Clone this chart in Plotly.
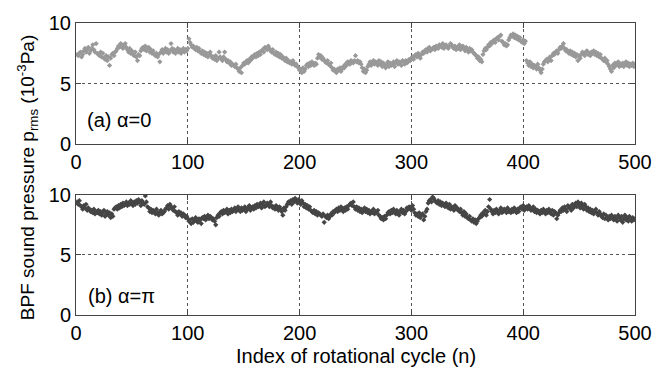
import plotly.graph_objects as go

# Index of rotational cycle
n = list(range(1, 501))

# (a) alpha = 0
p_a = [
    7.4,7.3,7.5,7.6,7.2,7.4,7.7,7.9,7.6,7.8,8.0,7.5,7.7,7.9,8.2,7.8,7.6,8.3,7.5,7.4,
    7.3,7.6,7.2,7.5,7.1,7.0,7.3,6.9,7.2,6.5,7.1,7.4,7.5,7.3,7.6,7.7,7.9,8.1,8.0,8.3,
    8.2,7.9,8.1,8.3,8.0,7.8,7.6,7.9,7.5,7.7,7.4,7.3,7.6,7.2,6.9,7.4,7.3,7.7,7.9,8.0,
    7.8,8.1,7.7,7.9,8.0,7.6,7.8,7.5,7.7,7.4,7.3,7.5,7.2,7.4,6.8,7.6,7.8,7.5,7.7,7.9,
    7.6,7.8,7.5,7.7,8.3,7.9,7.6,7.8,7.5,7.7,7.9,7.6,7.8,7.5,7.7,7.9,7.6,7.8,7.7,7.9,
    8.7,8.4,8.2,8.0,8.1,7.9,7.8,8.0,7.7,7.9,7.6,7.5,7.7,7.4,7.6,7.3,7.5,7.2,7.4,7.6,
    7.3,7.1,7.2,7.0,7.3,6.9,7.1,7.6,7.2,7.0,6.9,7.2,7.6,7.0,6.8,6.9,6.7,6.8,6.5,6.6,
    6.5,6.4,6.6,6.3,6.2,6.0,6.3,5.9,6.5,6.7,6.6,6.8,6.9,6.7,7.0,6.9,7.2,7.1,7.3,7.4,
    7.2,7.5,7.3,7.6,7.4,7.7,7.8,7.6,8.0,7.9,7.8,8.1,7.9,7.7,7.6,7.8,7.5,7.4,7.6,7.3,
    7.5,7.2,7.4,7.1,7.2,7.0,6.9,7.1,6.8,6.9,6.7,6.8,6.6,6.9,6.7,6.5,6.6,6.4,6.3,6.1,
    6.2,5.9,6.3,6.0,6.2,6.5,6.6,6.4,6.7,6.5,6.8,6.6,6.5,6.7,6.6,7.1,7.4,7.2,7.3,7.0,
    7.1,6.9,6.8,6.7,6.9,6.6,6.5,6.7,6.3,6.1,6.2,6.0,5.9,6.2,6.1,6.3,6.0,6.2,6.4,6.3,
    6.6,6.5,6.8,6.7,6.6,6.9,6.8,6.7,6.9,7.3,6.8,6.9,6.7,6.8,6.6,6.3,6.0,6.2,5.9,6.1,
    6.4,6.6,6.8,6.5,6.7,6.9,6.6,6.8,6.7,6.5,6.9,6.6,6.8,6.4,6.7,6.5,6.3,6.6,6.8,6.4,
    6.7,6.5,6.6,6.8,6.4,6.7,6.9,6.6,6.8,6.7,6.5,6.9,6.8,6.6,6.9,6.7,6.8,7.0,6.9,7.1,
    7.2,7.0,7.3,7.4,7.2,7.5,7.3,7.1,7.4,7.6,7.5,7.7,7.8,7.6,7.9,8.0,7.7,7.8,7.9,8.0,
    7.8,8.1,8.0,7.9,8.2,8.1,8.0,8.3,7.9,8.1,8.2,8.0,7.9,8.1,8.3,8.2,8.0,7.9,8.1,7.8,
    8.0,7.9,8.2,7.8,8.0,8.1,7.9,7.7,8.0,7.8,7.6,7.9,7.7,7.8,7.6,7.5,7.4,7.3,7.1,7.2,
    6.9,7.0,6.8,7.4,7.7,7.9,7.8,8.0,8.2,8.1,8.4,8.3,8.5,8.6,8.4,8.7,8.8,8.6,8.9,9.0,
    8.5,8.4,8.2,8.3,8.1,8.2,8.6,8.8,9.0,8.9,9.1,8.8,9.0,8.7,8.9,8.6,8.8,8.5,8.4,8.6,
    8.3,8.5,6.9,6.7,6.5,6.8,6.4,6.6,6.3,6.5,6.4,6.2,6.6,6.3,6.1,5.9,6.2,6.6,6.8,6.9,
    7.0,6.8,7.1,7.2,6.9,7.3,7.5,7.4,7.6,7.7,7.5,7.8,8.0,7.9,8.1,8.3,7.9,7.7,7.8,7.6,
    7.5,7.7,7.4,7.6,7.3,7.5,7.2,7.4,6.9,7.3,7.1,7.4,7.6,7.5,7.3,7.6,7.7,7.4,7.5,7.3,
    7.6,7.5,7.7,7.4,7.6,7.3,7.5,7.2,7.4,7.1,7.0,6.9,7.1,6.8,6.9,6.6,6.4,6.2,6.0,6.5,
    6.3,6.7,6.5,6.6,6.8,6.4,6.6,6.5,6.7,6.4,6.6,6.8,6.5,6.7,6.4,6.6,6.5,6.7,6.4,6.6,
]

# (b) alpha = pi
p_b = [
    9.4,9.2,9.5,9.1,9.0,8.8,9.1,8.9,9.2,8.7,8.9,8.8,8.6,8.7,8.5,8.8,8.4,8.6,8.5,8.7,
    8.4,8.6,8.3,8.5,8.7,8.2,8.4,8.6,8.3,8.5,8.1,8.4,8.2,8.8,8.9,9.0,8.8,9.1,8.9,9.2,
    9.0,9.3,9.1,9.2,9.4,9.1,9.3,9.2,9.5,9.3,9.1,9.4,9.2,9.5,9.3,9.6,9.4,9.1,9.5,9.3,
    9.2,9.9,9.4,9.0,8.9,8.6,8.8,8.5,8.7,8.6,8.4,8.8,8.5,8.3,8.6,8.7,8.4,8.5,8.6,8.8,
    8.9,9.1,8.8,9.2,9.0,8.9,8.7,9.0,8.6,8.5,8.3,8.6,8.4,8.5,8.2,8.4,8.3,8.1,8.2,8.0,
    7.8,7.9,7.6,8.0,7.7,7.9,8.1,7.8,7.7,8.0,7.9,7.6,8.1,8.0,8.2,7.9,8.1,8.3,8.0,8.2,
    8.1,7.9,8.0,7.8,7.5,8.1,8.3,8.2,8.5,8.6,8.4,8.7,8.5,8.6,8.8,8.4,8.7,8.5,8.8,8.6,
    8.7,8.9,8.6,8.8,9.0,8.7,8.6,8.9,8.7,8.8,9.0,8.6,8.8,8.9,9.1,8.7,8.9,9.0,8.8,9.1,
    8.9,9.2,9.0,9.1,9.3,8.9,9.2,9.4,9.0,9.1,9.3,9.2,9.0,9.4,9.1,8.9,9.0,8.8,9.1,8.9,
    8.7,9.0,8.8,8.6,8.3,8.9,8.7,9.0,9.2,9.4,9.3,9.5,9.2,9.6,9.4,9.7,9.5,9.3,9.6,9.4,
    9.2,9.5,9.3,9.0,9.2,8.9,9.1,8.8,9.0,8.7,8.6,8.5,8.7,8.4,8.6,8.3,8.5,8.4,8.3,8.2,
    8.4,7.7,8.2,8.1,8.3,8.0,8.2,8.4,8.3,8.6,8.5,8.7,8.8,8.6,8.9,8.7,9.0,8.8,8.6,8.9,
    8.7,9.0,8.8,9.1,9.2,9.3,9.1,9.4,9.0,8.8,9.0,8.7,8.9,8.6,8.8,8.5,8.7,8.9,8.6,8.8,
    8.5,8.7,8.4,8.6,8.5,8.8,8.4,8.6,8.5,8.7,8.3,8.2,8.0,8.1,7.9,8.2,8.0,8.3,8.5,8.6,
    8.4,8.7,8.5,8.8,8.6,8.4,8.7,8.5,8.3,8.6,8.8,8.5,8.7,8.4,8.6,8.9,8.8,9.0,8.9,8.7,
    9.1,8.8,8.5,8.3,8.4,8.2,8.5,8.1,8.3,8.4,7.9,8.2,8.6,8.8,9.3,9.5,9.6,9.4,9.8,9.7,
    9.5,9.4,9.3,9.5,9.2,9.4,9.1,9.3,9.2,9.0,9.3,9.1,8.9,9.2,8.8,9.0,8.9,8.7,9.1,8.8,
    8.9,8.7,8.6,8.8,8.5,8.3,8.6,8.2,8.4,8.1,8.0,8.2,7.9,7.8,8.0,7.7,7.9,7.6,7.8,8.0,
    8.1,8.3,8.2,8.5,8.4,8.7,8.3,8.6,9.0,9.6,8.8,8.6,8.4,8.7,8.5,8.8,8.6,8.4,8.7,8.9,
    8.5,8.6,8.8,8.7,8.5,8.9,8.6,8.7,8.5,8.8,8.6,8.9,8.7,8.5,8.8,8.6,8.9,9.0,8.8,9.1,
    8.7,8.9,9.0,8.8,9.1,8.9,8.7,8.8,9.0,8.6,8.8,8.5,8.7,8.6,8.4,8.7,8.5,8.8,8.6,8.4,
    8.7,8.5,8.8,8.6,8.4,8.7,8.3,8.6,8.5,8.0,8.3,8.5,8.7,8.6,8.9,8.7,9.0,8.8,8.6,9.1,
    8.9,9.0,8.7,9.2,8.9,9.1,9.3,9.0,9.4,9.2,8.9,9.3,9.1,8.8,9.2,9.0,8.7,8.9,8.6,8.8,
    8.5,8.7,8.4,8.6,8.8,8.5,8.3,8.6,8.4,8.2,8.1,8.4,8.0,8.3,8.1,7.9,8.2,8.0,8.3,8.1,
    7.9,8.2,8.0,7.8,8.3,8.1,7.9,8.2,7.7,8.0,8.3,7.9,8.1,7.8,8.2,8.0,7.8,8.1,7.9,8.0,
]

x_ticks = [0, 100, 200, 300, 400, 500]
y_ticks = [0, 5, 10]

FONT = "Liberation Sans, Arial, sans-serif"

fig = go.Figure()
fig.add_trace(go.Scatter(x=n, y=p_a, mode="markers", xaxis="x", yaxis="y",
                         marker=dict(symbol="diamond", size=4, color="#999999"),
                         showlegend=False))
fig.add_trace(go.Scatter(x=n, y=p_b, mode="markers", xaxis="x2", yaxis="y2",
                         marker=dict(symbol="diamond", size=4, color="#454545"),
                         showlegend=False))

axis_common = dict(
    showline=True, linecolor="#444444", linewidth=1, mirror="ticks",
    ticks="inside", ticklen=5, tickcolor="#444444",
    showgrid=True, gridcolor="#555555", griddash="dot", gridwidth=1,
    zeroline=False, tickfont=dict(size=20, color="black", family=FONT),
)

fig.update_layout(
    width=665, height=369,
    margin=dict(l=76, r=30, t=16, b=54),
    paper_bgcolor="white", plot_bgcolor="white",
    font=dict(family=FONT, color="black", size=20),
    xaxis=dict(domain=[0, 1], range=[0, 500], tickvals=x_ticks, anchor="y", **axis_common),
    yaxis=dict(domain=[0.585, 1], range=[0, 10], tickvals=y_ticks, anchor="x", **axis_common),
    xaxis2=dict(domain=[0, 1], range=[0, 500], tickvals=x_ticks, anchor="y2", **axis_common),
    yaxis2=dict(domain=[0, 0.412], range=[0, 10], tickvals=y_ticks, anchor="x2", **axis_common),
    annotations=[
        dict(text="(a) \u03b1=0", x=8, y=2.0, xref="x", yref="y", xanchor="left", yanchor="middle",
             showarrow=False, font=dict(size=20)),
        dict(text="(b) \u03b1=\u03c0", x=9, y=1.6, xref="x2", yref="y2", xanchor="left", yanchor="middle",
             showarrow=False, font=dict(size=20)),
        dict(text="Index of rotational cycle (n)", x=0.5, y=-0.14, xref="paper", yref="paper",
             xanchor="center", yanchor="middle", showarrow=False, font=dict(size=20)),
        dict(text="BPF sound pressure p<sub>rms</sub> (10<sup>-3</sup>Pa)", x=-0.087, y=0.47,
             xref="paper", yref="paper", xanchor="center", yanchor="middle", textangle=-90,
             showarrow=False, font=dict(size=19)),
    ],
)

fig.write_html("out.html")
